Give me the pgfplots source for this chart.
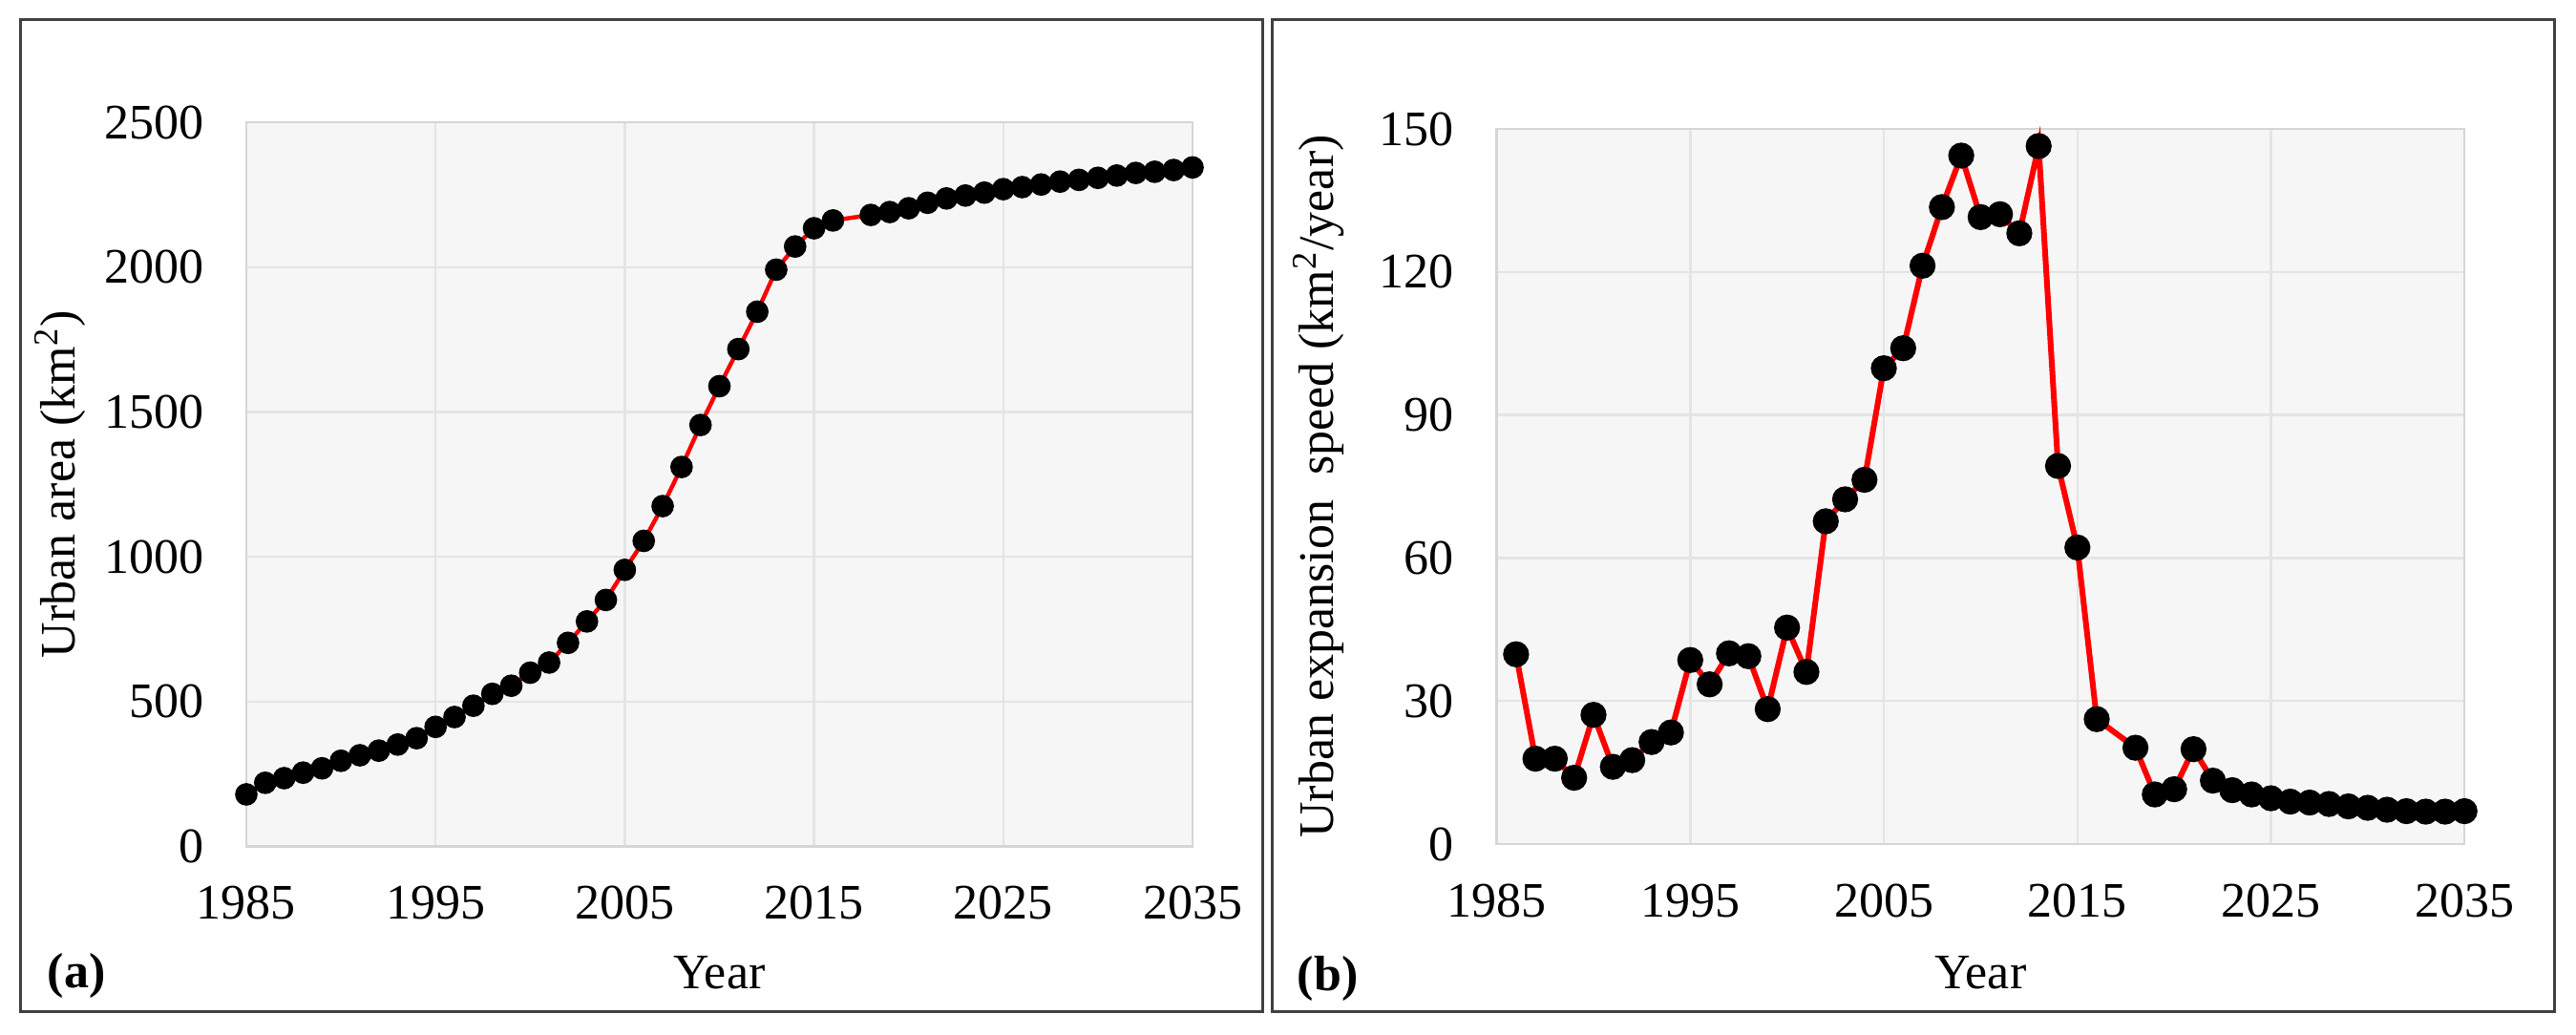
\documentclass[border=0pt]{standalone}
\usepackage{fontspec}
\setmainfont{Liberation Serif}
\usepackage{pgfplots}
\usepackage{pgfplotstable}
\pgfplotsset{compat=1.18}
\definecolor{plotbg}{HTML}{F6F6F6}
\definecolor{gridc}{HTML}{E4E4E4}
\definecolor{axc}{HTML}{D6D6D6}
\definecolor{framec}{HTML}{404040}

\pgfplotstableread{
year area
1985 180
1986 220
1987 236
1988 255
1989 270
1990 296
1991 315
1992 331
1993 352
1994 374
1995 413
1996 447
1997 486
1998 527
1999 555
2000 600
2001 635
2002 703
2003 777
2004 851
2005 955
2006 1055
2007 1175
2008 1310
2009 1455
2010 1589
2011 1717
2012 1846
2013 1991
2014 2071
2015 2134
2016 2161
2018 2180
2019 2190
2020 2203
2021 2222
2022 2237
2023 2247
2024 2257
2025 2269
2026 2276
2027 2285
2028 2295
2029 2301
2030 2308
2031 2316
2032 2325
2033 2329
2034 2335
2035 2344
}\areatable

\pgfplotstableread{
year speed
1986 39.8
1987 17.9
1988 17.9
1989 13.9
1990 27.1
1991 16.2
1992 17.6
1993 21.4
1994 23.4
1995 38.6
1996 33.5
1997 40.0
1998 39.4
1999 28.3
2000 45.4
2001 36.1
2002 67.7
2003 72.3
2004 76.4
2005 99.8
2006 104.0
2007 121.3
2008 133.6
2009 144.4
2010 131.5
2011 132.1
2012 128.1
2013 146.4
2014 79.3
2015 62.2
2016 26.2
2018 20.2
2019 10.4
2020 11.5
2021 19.9
2022 13.3
2023 11.3
2024 10.4
2025 9.6
2026 8.9
2027 8.7
2028 8.4
2029 7.9
2030 7.6
2031 7.2
2032 6.9
2033 6.8
2034 6.8
2035 6.9
}\speedtable

\newcommand{\ff}{\fontsize{13}{15.6}\selectfont}

\begin{document}
\begin{tikzpicture}[font=\ff]
\path[fill=white] (0,0) rectangle (674.5pt,270.75pt);
\draw[framec, line width=0.75pt] (5.25pt,6pt) rectangle (330.5pt,265.5pt);
\draw[framec, line width=0.75pt] (333pt,6pt) rectangle (668.75pt,265.5pt);

\pgfplotsset{common/.style={
  scale only axis, anchor=south west,
  xmin=1985, xmax=2035, xtick={1985,1995,...,2035},
  ymin=0,
  major tick length=0pt,
  grid=major,
  major grid style={gridc, line width=0.6pt},
  axis line style={axc, line width=0.6pt},
  axis background/.style={fill=plotbg},
  /pgf/number format/assume math mode=true,
  /pgf/number format/1000 sep={},
  tick label style={font=\ff},
  label style={font=\ff},
  xticklabel style={inner sep=0pt, yshift=-10.25pt},
  yticklabel style={inner sep=0pt, xshift=-11pt},
  clip=false,
}}

\begin{axis}[common,
  at={(64.5pt,49.1pt)}, width=247.75pt, height=189.65pt,
  ymax=2500, ytick={0,500,...,2500},
  xlabel={Year},
  xlabel style={at={(axis description cs:0.5,-0.1745)}, anchor=center},
  ylabel={Urban area (km\textsuperscript{2})},
  ylabel style={at={(axis description cs:-0.1968,0.5)}, anchor=center},
]
\addplot[red, line width=1.1pt, mark=*, mark size=2.4pt,
  mark options={black, fill=black, solid}] table[x=year,y=area]{\areatable};
\end{axis}

\begin{axis}[common,
  at={(391.9pt,49.75pt)}, width=253.4pt, height=187.25pt,
  ymax=150, ytick={0,30,...,150},
  xlabel={Year},
  xlabel style={at={(axis description cs:0.5,-0.1802)}, anchor=center},
  ylabel={Urban expansion\ \ speed (km\textsuperscript{2}/year)},
  ylabel style={at={(axis description cs:-0.1840,0.5)}, anchor=center},
]
\addplot[red, line width=1.5pt, mark=*, mark size=2.65pt,
  mark options={black, fill=black, solid}] table[x=year,y=speed]{\speedtable};
\end{axis}

\node[anchor=west, inner sep=0pt, font=\ff\bfseries] at (12.25pt,15.25pt) {(a)};
\node[anchor=west, inner sep=0pt, font=\ff\bfseries] at (339.5pt,14.5pt) {(b)};
\end{tikzpicture}
\end{document}
